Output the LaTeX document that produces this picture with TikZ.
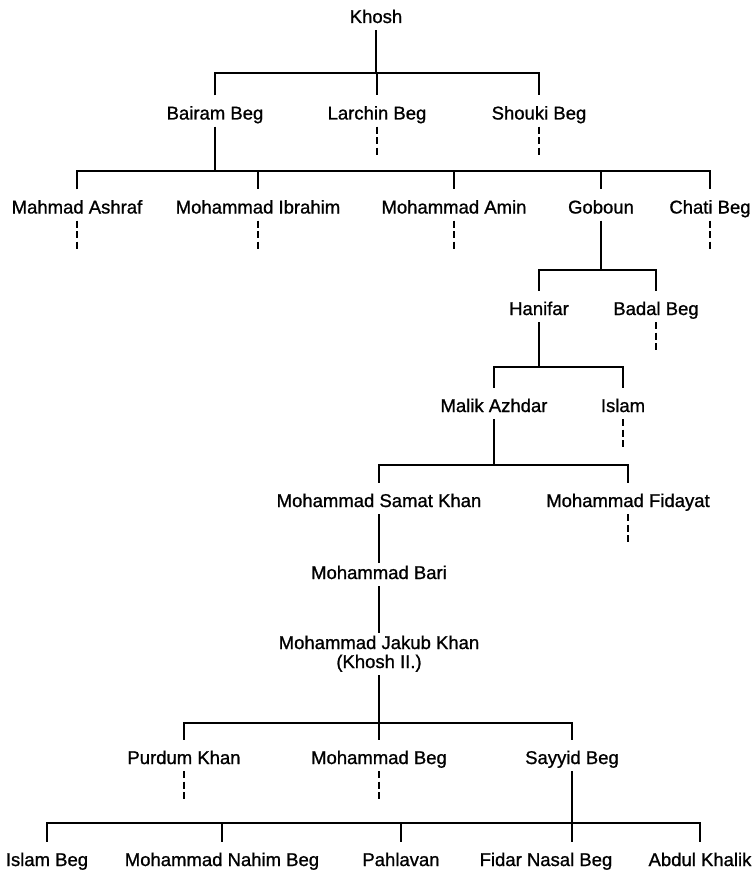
\documentclass[tikz,border=0pt]{standalone}
\usepackage{fontspec}
\setmainfont{Liberation Sans}
\newfontfamily\namefont{Liberation Sans}[FakeBold=1]
\usepackage{tikz}

\begin{document}
\begin{tikzpicture}[x=1pt,y=-1pt]
        \tikzstyle{person}=[anchor=base, inner xsep=2pt, inner ysep=3pt, text height=13pt, text depth=4pt, font=\namefont\fontsize{18.5}{19}\selectfont]
        \tikzstyle{link}=[line width=1.8pt]
        \tikzstyle{kid}=[link, shorten >=8pt]
        \tikzstyle{brood}=[link, shorten <=8pt, shorten >=8pt]
        \tikzstyle{trail}=[line width=1.4pt, dash pattern=on 7pt off 3.5pt]

        \useasboundingbox (0,0) rectangle (753,872);

        \node[person] (khosh) at (376,23) {Khosh};

        \node[person] (bairam) at (215,119.5) {Bairam Beg};
        \node[person] (larchin) at (377,119.5) {Larchin Beg};
        \node[person] (shouki) at (539,119.5) {Shouki Beg};

        \node[person] (ashraf) at (77,213.5) {Mahmad Ashraf};
        \node[person] (ibrahim) at (258,213.5) {Mohammad Ibrahim};
        \node[person] (amin) at (454,213.5) {Mohammad Amin};
        \node[person] (goboun) at (601,213.5) {Goboun};
        \node[person] (chati) at (710,213.5) {Chati Beg};

        \node[person] (hanifar) at (539,315) {Hanifar};
        \node[person] (badal) at (656,315) {Badal Beg};

        \node[person] (azhdar) at (494,412) {Malik Azhdar};
        \node[person] (islam) at (623,412) {Islam};

        \node[person] (samat) at (379,507) {Mohammad Samat Khan};
        \node[person] (fidayat) at (628,507) {Mohammad Fidayat};

        \node[person] (bari) at (379,579) {Mohammad Bari};
        \node[person, align=center, text height=32pt] (jakub) at (379,668) {Mohammad Jakub Khan\\(Khosh II.)};

        \node[person] (purdum) at (184,764) {Purdum Khan};
        \node[person] (mbeg) at (379,764) {Mohammad Beg};
        \node[person] (sayyid) at (572,764) {Sayyid Beg};

        \node[person] (islambeg) at (47,866) {Islam Beg};
        \node[person] (nahim) at (222,866) {Mohammad Nahim Beg};
        \node[person] (pahlavan) at (401,866) {Pahlavan};
        \node[person] (fidar) at (546,866) {Fidar Nasal Beg};
        \node[person] (khalik) at (700,866) {Abdul Khalik};

        % bar junctions
        \coordinate (k1) at (376,73);
        \coordinate (b1) at (215,171);
        \coordinate (g1) at (601,270);
        \coordinate (h1) at (539,367);
        \coordinate (a1) at (494,465);
        \coordinate (j1) at (379,723);
        \coordinate (s1) at (572,823);

        \draw[link] (khosh) -- (k1);
        \draw[brood] (bairam) |- (k1) -| (shouki);
        \draw[kid] (larchin |- k1) -- (larchin);

        \draw[link] (bairam) -- (b1);
        \draw[brood] (ashraf) |- (b1) -| (chati);
        \draw[kid] (ibrahim |- b1) -- (ibrahim);
        \draw[kid] (amin |- b1) -- (amin);
        \draw[kid] (goboun |- b1) -- (goboun);

        \draw[link] (goboun) -- (g1);
        \draw[brood] (hanifar) |- (g1) -| (badal);

        \draw[link] (hanifar) -- (h1);
        \draw[brood] (azhdar) |- (h1) -| (islam);

        \draw[link] (azhdar) -- (a1);
        \draw[brood] (samat) |- (a1) -| (fidayat);

        \draw[link] (samat) -- (bari);
        \draw[link] (bari) -- (jakub);

        \draw[link] (jakub) -- (j1);
        \draw[brood] (purdum) |- (j1) -| (sayyid);
        \draw[kid] (mbeg |- j1) -- (mbeg);

        \draw[kid] (sayyid) -- (sayyid |- fidar.north);
        \draw[brood] (islambeg) |- (s1) -| (khalik);
        \draw[kid] (nahim |- s1) -- (nahim);
        \draw[kid] (pahlavan |- s1) -- (pahlavan);

        % lines not followed further
        \draw[trail] (larchin.south) -- ++(0,28);
        \draw[trail] (shouki.south) -- ++(0,28);
        \draw[trail] (ashraf.south) -- ++(0,28);
        \draw[trail] (ibrahim.south) -- ++(0,28);
        \draw[trail] (amin.south) -- ++(0,28);
        \draw[trail] (chati.south) -- ++(0,28);
        \draw[trail] (badal.south) -- ++(0,28);
        \draw[trail] (islam.south) -- ++(0,28);
        \draw[trail] (fidayat.south) -- ++(0,28);
        \draw[trail] (purdum.south) -- ++(0,28);
        \draw[trail] (mbeg.south) -- ++(0,28);
\end{tikzpicture}
\end{document}
